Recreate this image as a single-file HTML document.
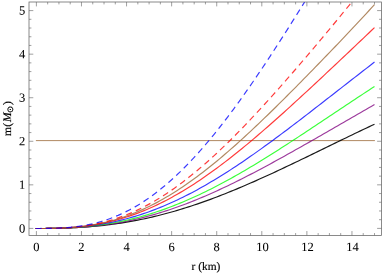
<!DOCTYPE html>
<html><head><meta charset="utf-8"><title>m(r)</title>
<style>html,body{margin:0;padding:0;background:#fff;}body{width:382px;height:273px;overflow:hidden;}svg{display:block;}</style>
</head><body>
<svg width="382" height="273" viewBox="0 0 382 273">
<defs><clipPath id="c"><rect x="29.0" y="2.0" width="352.4" height="233.45"/></clipPath></defs>
<g clip-path="url(#c)" fill="none" stroke-width="1.17" stroke-opacity="0.77">
<path d="M35.90,140.6 L374.9,140.6" stroke="#996633" stroke-width="1.0"/>
<path d="M35.61,228.50 L36.40,228.50 L39.22,228.50 L42.03,228.49 L44.85,228.47 L47.67,228.45 L50.49,228.41 L53.30,228.37 L56.12,228.32 L58.94,228.26 L61.76,228.18 L64.57,228.10 L67.39,228.00 L70.21,227.88 L73.03,227.76 L75.84,227.62 L78.66,227.46 L81.48,227.29 L84.30,227.10 L87.11,226.90 L89.93,226.68 L92.75,226.44 L95.57,226.18 L98.38,225.91 L101.20,225.62 L104.02,225.31 L106.84,224.98 L109.66,224.64 L112.47,224.27 L115.29,223.89 L118.11,223.48 L120.92,223.06 L123.74,222.61 L126.56,222.15 L129.38,221.67 L132.19,221.16 L135.01,220.64 L137.83,220.10 L140.65,219.53 L143.47,218.95 L146.28,218.34 L149.10,217.72 L151.92,217.07 L154.73,216.41 L157.55,215.72 L160.37,215.02 L163.19,214.29 L166.00,213.54 L168.82,212.78 L171.64,212.00 L174.46,211.19 L177.28,210.37 L180.09,209.53 L182.91,208.67 L185.73,207.79 L188.54,206.89 L191.36,205.98 L194.18,205.04 L197.00,204.09 L199.81,203.12 L202.63,202.14 L205.45,201.14 L208.27,200.12 L211.09,199.08 L213.90,198.03 L216.72,196.96 L219.54,195.88 L222.35,194.79 L225.17,193.68 L227.99,192.55 L230.81,191.41 L233.62,190.26 L236.44,189.09 L239.26,187.91 L242.08,186.72 L244.90,185.52 L247.71,184.31 L250.53,183.08 L253.35,181.84 L256.16,180.60 L258.98,179.34 L261.80,178.07 L264.62,176.80 L267.44,175.51 L270.25,174.22 L273.07,172.92 L275.89,171.61 L278.70,170.30 L281.52,168.98 L284.34,167.65 L287.16,166.31 L289.97,164.97 L292.79,163.63 L295.61,162.28 L298.43,160.93 L301.24,159.57 L304.06,158.21 L306.88,156.85 L309.70,155.48 L312.51,154.11 L315.33,152.74 L318.15,151.37 L320.97,150.00 L323.78,148.62 L326.60,147.25 L329.42,145.88 L332.24,144.51 L335.05,143.13 L337.87,141.76 L340.69,140.39 L343.51,139.02 L346.32,137.66 L349.14,136.30 L351.96,134.94 L354.78,133.58 L357.59,132.23 L360.41,130.88 L363.23,129.53 L366.05,128.19 L368.86,126.85 L371.68,125.52 L374.50,124.19" stroke="#000000" stroke-opacity="0.9"/>
<path d="M35.61,228.50 L36.40,228.50 L39.22,228.50 L42.03,228.49 L44.85,228.48 L47.67,228.46 L50.49,228.43 L53.30,228.39 L56.12,228.34 L58.94,228.27 L61.76,228.20 L64.57,228.11 L67.39,228.01 L70.21,227.89 L73.03,227.75 L75.84,227.60 L78.66,227.43 L81.48,227.24 L84.30,227.03 L87.11,226.80 L89.93,226.55 L92.75,226.28 L95.57,225.99 L98.38,225.67 L101.20,225.34 L104.02,224.98 L106.84,224.59 L109.66,224.19 L112.47,223.76 L115.29,223.31 L118.11,222.83 L120.92,222.32 L123.74,221.80 L126.56,221.24 L129.38,220.67 L132.19,220.07 L135.01,219.44 L137.83,218.79 L140.65,218.11 L143.47,217.41 L146.28,216.68 L149.10,215.93 L151.92,215.15 L154.73,214.35 L157.55,213.52 L160.37,212.67 L163.19,211.80 L166.00,210.90 L168.82,209.97 L171.64,209.03 L174.46,208.06 L177.28,207.07 L180.09,206.05 L182.91,205.01 L185.73,203.95 L188.54,202.87 L191.36,201.77 L194.18,200.64 L197.00,199.50 L199.81,198.33 L202.63,197.15 L205.45,195.94 L208.27,194.72 L211.09,193.48 L213.90,192.22 L216.72,190.94 L219.54,189.64 L222.35,188.33 L225.17,187.00 L227.99,185.66 L230.81,184.30 L233.62,182.92 L236.44,181.53 L239.26,180.13 L242.08,178.71 L244.90,177.28 L247.71,175.84 L250.53,174.39 L253.35,172.92 L256.16,171.44 L258.98,169.96 L261.80,168.46 L264.62,166.95 L267.44,165.43 L270.25,163.91 L273.07,162.37 L275.89,160.83 L278.70,159.28 L281.52,157.73 L284.34,156.16 L287.16,154.60 L289.97,153.02 L292.79,151.44 L295.61,149.86 L298.43,148.27 L301.24,146.67 L304.06,145.08 L306.88,143.48 L309.70,141.87 L312.51,140.26 L315.33,138.65 L318.15,137.04 L320.97,135.43 L323.78,133.81 L326.60,132.19 L329.42,130.57 L332.24,128.95 L335.05,127.33 L337.87,125.71 L340.69,124.08 L343.51,122.46 L346.32,120.83 L349.14,119.21 L351.96,117.58 L354.78,115.95 L357.59,114.32 L360.41,112.69 L363.23,111.06 L366.05,109.43 L368.86,107.79 L371.68,106.16 L374.50,104.52" stroke="#800080"/>
<path d="M35.61,228.50 L36.40,228.50 L39.22,228.50 L42.03,228.49 L44.85,228.47 L47.67,228.44 L50.49,228.40 L53.30,228.36 L56.12,228.29 L58.94,228.22 L61.76,228.13 L64.57,228.02 L67.39,227.90 L70.21,227.76 L73.03,227.60 L75.84,227.42 L78.66,227.22 L81.48,227.00 L84.30,226.76 L87.11,226.50 L89.93,226.21 L92.75,225.90 L95.57,225.57 L98.38,225.21 L101.20,224.83 L104.02,224.43 L106.84,223.99 L109.66,223.54 L112.47,223.05 L115.29,222.54 L118.11,222.00 L120.92,221.44 L123.74,220.84 L126.56,220.22 L129.38,219.57 L132.19,218.90 L135.01,218.19 L137.83,217.46 L140.65,216.70 L143.47,215.91 L146.28,215.10 L149.10,214.25 L151.92,213.38 L154.73,212.48 L157.55,211.55 L160.37,210.59 L163.19,209.61 L166.00,208.60 L168.82,207.56 L171.64,206.49 L174.46,205.40 L177.28,204.28 L180.09,203.14 L182.91,201.97 L185.73,200.77 L188.54,199.55 L191.36,198.30 L194.18,197.03 L197.00,195.74 L199.81,194.42 L202.63,193.07 L205.45,191.71 L208.27,190.32 L211.09,188.91 L213.90,187.47 L216.72,186.02 L219.54,184.54 L222.35,183.05 L225.17,181.53 L227.99,180.00 L230.81,178.44 L233.62,176.87 L236.44,175.28 L239.26,173.67 L242.08,172.05 L244.90,170.41 L247.71,168.75 L250.53,167.08 L253.35,165.39 L256.16,163.69 L258.98,161.98 L261.80,160.25 L264.62,158.51 L267.44,156.76 L270.25,155.00 L273.07,153.22 L275.89,151.44 L278.70,149.64 L281.52,147.84 L284.34,146.03 L287.16,144.21 L289.97,142.38 L292.79,140.55 L295.61,138.71 L298.43,136.87 L301.24,135.01 L304.06,133.16 L306.88,131.30 L309.70,129.43 L312.51,127.57 L315.33,125.70 L318.15,123.82 L320.97,121.95 L323.78,120.07 L326.60,118.20 L329.42,116.32 L332.24,114.44 L335.05,112.56 L337.87,110.68 L340.69,108.81 L343.51,106.93 L346.32,105.06 L349.14,103.19 L351.96,101.32 L354.78,99.46 L357.59,97.59 L360.41,95.73 L363.23,93.88 L366.05,92.02 L368.86,90.17 L371.68,88.33 L374.50,86.49" stroke="#00ff00"/>
<path d="M35.61,228.50 L36.40,228.50 L39.22,228.50 L42.03,228.49 L44.85,228.46 L47.67,228.43 L50.49,228.39 L53.30,228.33 L56.12,228.26 L58.94,228.17 L61.76,228.06 L64.57,227.94 L67.39,227.80 L70.21,227.63 L73.03,227.44 L75.84,227.23 L78.66,227.00 L81.48,226.74 L84.30,226.46 L87.11,226.15 L89.93,225.81 L92.75,225.45 L95.57,225.05 L98.38,224.63 L101.20,224.18 L104.02,223.70 L106.84,223.19 L109.66,222.65 L112.47,222.07 L115.29,221.47 L118.11,220.83 L120.92,220.16 L123.74,219.46 L126.56,218.73 L129.38,217.96 L132.19,217.17 L135.01,216.33 L137.83,215.47 L140.65,214.57 L143.47,213.64 L146.28,212.68 L149.10,211.68 L151.92,210.65 L154.73,209.59 L157.55,208.50 L160.37,207.37 L163.19,206.21 L166.00,205.02 L168.82,203.79 L171.64,202.54 L174.46,201.25 L177.28,199.94 L180.09,198.59 L182.91,197.21 L185.73,195.81 L188.54,194.37 L191.36,192.90 L194.18,191.41 L197.00,189.89 L199.81,188.34 L202.63,186.76 L205.45,185.16 L208.27,183.53 L211.09,181.87 L213.90,180.19 L216.72,178.49 L219.54,176.76 L222.35,175.01 L225.17,173.23 L227.99,171.44 L230.81,169.62 L233.62,167.78 L236.44,165.92 L239.26,164.04 L242.08,162.14 L244.90,160.22 L247.71,158.29 L250.53,156.33 L253.35,154.36 L256.16,152.38 L258.98,150.38 L261.80,148.36 L264.62,146.33 L267.44,144.29 L270.25,142.23 L273.07,140.17 L275.89,138.09 L278.70,136.00 L281.52,133.89 L284.34,131.78 L287.16,129.66 L289.97,127.54 L292.79,125.40 L295.61,123.25 L298.43,121.10 L301.24,118.95 L304.06,116.78 L306.88,114.62 L309.70,112.44 L312.51,110.27 L315.33,108.08 L318.15,105.90 L320.97,103.71 L323.78,101.52 L326.60,99.33 L329.42,97.14 L332.24,94.94 L335.05,92.75 L337.87,90.55 L340.69,88.36 L343.51,86.16 L346.32,83.97 L349.14,81.77 L351.96,79.58 L354.78,77.39 L357.59,75.19 L360.41,73.00 L363.23,70.82 L366.05,68.63 L368.86,66.44 L371.68,64.26 L374.50,62.08" stroke="#0000ff"/>
<path d="M35.61,228.50 L36.40,228.50 L39.22,228.50 L42.03,228.49 L44.85,228.47 L47.67,228.44 L50.49,228.39 L53.30,228.33 L56.12,228.26 L58.94,228.16 L61.76,228.05 L64.57,227.91 L67.39,227.75 L70.21,227.56 L73.03,227.35 L75.84,227.11 L78.66,226.84 L81.48,226.54 L84.30,226.22 L87.11,225.85 L89.93,225.46 L92.75,225.03 L95.57,224.57 L98.38,224.07 L101.20,223.54 L104.02,222.97 L106.84,222.36 L109.66,221.72 L112.47,221.03 L115.29,220.31 L118.11,219.55 L120.92,218.74 L123.74,217.90 L126.56,217.02 L129.38,216.10 L132.19,215.13 L135.01,214.13 L137.83,213.08 L140.65,212.00 L143.47,210.87 L146.28,209.71 L149.10,208.50 L151.92,207.25 L154.73,205.97 L157.55,204.64 L160.37,203.27 L163.19,201.87 L166.00,200.42 L168.82,198.94 L171.64,197.41 L174.46,195.85 L177.28,194.25 L180.09,192.62 L182.91,190.95 L185.73,189.24 L188.54,187.50 L191.36,185.72 L194.18,183.91 L197.00,182.06 L199.81,180.18 L202.63,178.27 L205.45,176.33 L208.27,174.35 L211.09,172.34 L213.90,170.31 L216.72,168.25 L219.54,166.15 L222.35,164.03 L225.17,161.89 L227.99,159.71 L230.81,157.51 L233.62,155.29 L236.44,153.04 L239.26,150.77 L242.08,148.48 L244.90,146.17 L247.71,143.83 L250.53,141.48 L253.35,139.10 L256.16,136.71 L258.98,134.30 L261.80,131.87 L264.62,129.43 L267.44,126.97 L270.25,124.50 L273.07,122.01 L275.89,119.51 L278.70,117.00 L281.52,114.47 L284.34,111.94 L287.16,109.39 L289.97,106.83 L292.79,104.26 L295.61,101.69 L298.43,99.11 L301.24,96.51 L304.06,93.92 L306.88,91.31 L309.70,88.70 L312.51,86.08 L315.33,83.46 L318.15,80.84 L320.97,78.20 L323.78,75.57 L326.60,72.93 L329.42,70.29 L332.24,67.64 L335.05,64.99 L337.87,62.34 L340.69,59.69 L343.51,57.03 L346.32,54.37 L349.14,51.71 L351.96,49.04 L354.78,46.37 L357.59,43.70 L360.41,41.03 L363.23,38.35 L366.05,35.67 L368.86,32.98 L371.68,30.29 L374.50,27.60" stroke="#ff0000"/>
<path d="M35.61,228.50 L36.40,228.50 L39.22,228.50 L42.03,228.49 L44.85,228.48 L47.67,228.45 L50.49,228.42 L53.30,228.36 L56.12,228.29 L58.94,228.20 L61.76,228.09 L64.57,227.95 L67.39,227.79 L70.21,227.60 L73.03,227.39 L75.84,227.14 L78.66,226.86 L81.48,226.54 L84.30,226.19 L87.11,225.80 L89.93,225.38 L92.75,224.92 L95.57,224.41 L98.38,223.87 L101.20,223.28 L104.02,222.66 L106.84,221.99 L109.66,221.27 L112.47,220.51 L115.29,219.71 L118.11,218.86 L120.92,217.96 L123.74,217.02 L126.56,216.04 L129.38,215.00 L132.19,213.92 L135.01,212.80 L137.83,211.62 L140.65,210.40 L143.47,209.14 L146.28,207.83 L149.10,206.47 L151.92,205.06 L154.73,203.61 L157.55,202.11 L160.37,200.57 L163.19,198.99 L166.00,197.36 L168.82,195.69 L171.64,193.97 L174.46,192.21 L177.28,190.41 L180.09,188.57 L182.91,186.68 L185.73,184.76 L188.54,182.80 L191.36,180.80 L194.18,178.76 L197.00,176.68 L199.81,174.57 L202.63,172.42 L205.45,170.24 L208.27,168.02 L211.09,165.77 L213.90,163.49 L216.72,161.18 L219.54,158.83 L222.35,156.46 L225.17,154.06 L227.99,151.63 L230.81,149.17 L233.62,146.69 L236.44,144.19 L239.26,141.66 L242.08,139.10 L244.90,136.53 L247.71,133.93 L250.53,131.31 L253.35,128.67 L256.16,126.02 L258.98,123.34 L261.80,120.65 L264.62,117.94 L267.44,115.22 L270.25,112.48 L273.07,109.73 L275.89,106.97 L278.70,104.19 L281.52,101.40 L284.34,98.60 L287.16,95.78 L289.97,92.96 L292.79,90.13 L295.61,87.29 L298.43,84.44 L301.24,81.58 L304.06,78.71 L306.88,75.84 L309.70,72.96 L312.51,70.07 L315.33,67.18 L318.15,64.27 L320.97,61.37 L323.78,58.45 L326.60,55.53 L329.42,52.60 L332.24,49.67 L335.05,46.73 L337.87,43.78 L340.69,40.82 L343.51,37.86 L346.32,34.89 L349.14,31.91 L351.96,28.92 L354.78,25.92 L357.59,22.91 L360.41,19.89 L363.23,16.85 L366.05,13.81 L368.86,10.75 L371.68,7.67 L374.50,4.58" stroke="#996633"/>
<g transform="scale(1,1.056)"><path d="M35.61,216.38 L36.40,216.38 L39.22,216.38 L42.03,216.38 L44.85,216.36 L47.67,216.34 L50.49,216.30 L53.30,216.25 L56.12,216.18 L58.94,216.09 L61.76,215.98 L64.57,215.84 L67.39,215.68 L70.21,215.49 L73.03,215.26 L75.84,215.01 L78.66,214.72 L81.48,214.39 L84.30,214.03 L87.11,213.63 L89.93,213.19 L92.75,212.71 L95.57,212.18 L98.38,211.62 L101.20,211.01 L104.02,210.35 L106.84,209.65 L109.66,208.90 L112.47,208.10 L115.29,207.26 L118.11,206.37 L120.92,205.43 L123.74,204.44 L126.56,203.40 L129.38,202.31 L132.19,201.18 L135.01,199.99 L137.83,198.75 L140.65,197.46 L143.47,196.13 L146.28,194.74 L149.10,193.30 L151.92,191.82 L154.73,190.28 L157.55,188.70 L160.37,187.06 L163.19,185.38 L166.00,183.66 L168.82,181.88 L171.64,180.06 L174.46,178.19 L177.28,176.28 L180.09,174.32 L182.91,172.32 L185.73,170.27 L188.54,168.18 L191.36,166.05 L194.18,163.88 L197.00,161.67 L199.81,159.41 L202.63,157.12 L205.45,154.79 L208.27,152.43 L211.09,150.03 L213.90,147.59 L216.72,145.12 L219.54,142.61 L222.35,140.07 L225.17,137.50 L227.99,134.90 L230.81,132.27 L233.62,129.61 L236.44,126.93 L239.26,124.21 L242.08,121.47 L244.90,118.70 L247.71,115.91 L250.53,113.10 L253.35,110.26 L256.16,107.41 L258.98,104.53 L261.80,101.63 L264.62,98.71 L267.44,95.77 L270.25,92.82 L273.07,89.85 L275.89,86.86 L278.70,83.86 L281.52,80.84 L284.34,77.81 L287.16,74.76 L289.97,71.71 L292.79,68.64 L295.61,65.55 L298.43,62.46 L301.24,59.35 L304.06,56.24 L306.88,53.11 L309.70,49.97 L312.51,46.83 L315.33,43.67 L318.15,40.51 L320.97,37.33 L323.78,34.15 L326.60,30.95 L329.42,27.75 L332.24,24.53 L335.05,21.31 L337.87,18.07 L340.69,14.83 L343.51,11.57 L346.32,8.30 L349.14,5.02 L351.96,1.73 L354.78,-1.57 L357.59,-4.89" stroke="#ff0000" stroke-dasharray="6.0 4.24"/></g>
<g transform="scale(1,1.056)"><path d="M35.61,216.38 L36.40,216.38 L39.22,216.38 L42.03,216.37 L44.85,216.36 L47.67,216.33 L50.49,216.29 L53.30,216.22 L56.12,216.14 L58.94,216.03 L61.76,215.89 L64.57,215.73 L67.39,215.53 L70.21,215.29 L73.03,215.02 L75.84,214.70 L78.66,214.35 L81.48,213.95 L84.30,213.50 L87.11,213.01 L89.93,212.46 L92.75,211.86 L95.57,211.21 L98.38,210.51 L101.20,209.75 L104.02,208.93 L106.84,208.06 L109.66,207.12 L112.47,206.13 L115.29,205.07 L118.11,203.95 L120.92,202.76 L123.74,201.52 L126.56,200.21 L129.38,198.83 L132.19,197.39 L135.01,195.88 L137.83,194.30 L140.65,192.66 L143.47,190.96 L146.28,189.18 L149.10,187.34 L151.92,185.44 L154.73,183.46 L157.55,181.42 L160.37,179.32 L163.19,177.14 L166.00,174.91 L168.82,172.60 L171.64,170.24 L174.46,167.80 L177.28,165.31 L180.09,162.75 L182.91,160.13 L185.73,157.45 L188.54,154.70 L191.36,151.90 L194.18,149.03 L197.00,146.11 L199.81,143.13 L202.63,140.09 L205.45,137.00 L208.27,133.85 L211.09,130.65 L213.90,127.40 L216.72,124.09 L219.54,120.73 L222.35,117.33 L225.17,113.87 L227.99,110.37 L230.81,106.83 L233.62,103.23 L236.44,99.60 L239.26,95.92 L242.08,92.20 L244.90,88.45 L247.71,84.65 L250.53,80.82 L253.35,76.95 L256.16,73.04 L258.98,69.11 L261.80,65.14 L264.62,61.14 L267.44,57.11 L270.25,53.06 L273.07,48.97 L275.89,44.87 L278.70,40.74 L281.52,36.58 L284.34,32.41 L287.16,28.21 L289.97,24.00 L292.79,19.77 L295.61,15.52 L298.43,11.26 L301.24,6.98 L304.06,2.69 L306.88,-1.61 L309.70,-5.92" stroke="#0000ff" stroke-dasharray="6.0 4.24"/></g>
</g>
<g stroke="#646464" stroke-width="0.75" fill="none">
<rect x="29.0" y="2.0" width="352.4" height="233.45"/>
<path d="M36.40,235.45 v-4.4 M36.40,2.0 v4.4 M47.67,235.45 v-2.4 M47.67,2.0 v2.4 M58.94,235.45 v-2.4 M58.94,2.0 v2.4 M70.21,235.45 v-2.4 M70.21,2.0 v2.4 M81.48,235.45 v-4.4 M81.48,2.0 v4.4 M92.75,235.45 v-2.4 M92.75,2.0 v2.4 M104.02,235.45 v-2.4 M104.02,2.0 v2.4 M115.29,235.45 v-2.4 M115.29,2.0 v2.4 M126.56,235.45 v-4.4 M126.56,2.0 v4.4 M137.83,235.45 v-2.4 M137.83,2.0 v2.4 M149.10,235.45 v-2.4 M149.10,2.0 v2.4 M160.37,235.45 v-2.4 M160.37,2.0 v2.4 M171.64,235.45 v-4.4 M171.64,2.0 v4.4 M182.91,235.45 v-2.4 M182.91,2.0 v2.4 M194.18,235.45 v-2.4 M194.18,2.0 v2.4 M205.45,235.45 v-2.4 M205.45,2.0 v2.4 M216.72,235.45 v-4.4 M216.72,2.0 v4.4 M227.99,235.45 v-2.4 M227.99,2.0 v2.4 M239.26,235.45 v-2.4 M239.26,2.0 v2.4 M250.53,235.45 v-2.4 M250.53,2.0 v2.4 M261.80,235.45 v-4.4 M261.80,2.0 v4.4 M273.07,235.45 v-2.4 M273.07,2.0 v2.4 M284.34,235.45 v-2.4 M284.34,2.0 v2.4 M295.61,235.45 v-2.4 M295.61,2.0 v2.4 M306.88,235.45 v-4.4 M306.88,2.0 v4.4 M318.15,235.45 v-2.4 M318.15,2.0 v2.4 M329.42,235.45 v-2.4 M329.42,2.0 v2.4 M340.69,235.45 v-2.4 M340.69,2.0 v2.4 M351.96,235.45 v-4.4 M351.96,2.0 v4.4 M363.23,235.45 v-2.4 M363.23,2.0 v2.4 M374.50,235.45 v-2.4 M374.50,2.0 v2.4 M29.0,228.40 h4.3 M381.4,228.40 h-4.3 M29.0,219.69 h2.4 M381.4,219.69 h-2.4 M29.0,210.98 h2.4 M381.4,210.98 h-2.4 M29.0,202.26 h2.4 M381.4,202.26 h-2.4 M29.0,193.55 h2.4 M381.4,193.55 h-2.4 M29.0,184.84 h4.3 M381.4,184.84 h-4.3 M29.0,176.13 h2.4 M381.4,176.13 h-2.4 M29.0,167.42 h2.4 M381.4,167.42 h-2.4 M29.0,158.70 h2.4 M381.4,158.70 h-2.4 M29.0,149.99 h2.4 M381.4,149.99 h-2.4 M29.0,141.28 h4.3 M381.4,141.28 h-4.3 M29.0,132.57 h2.4 M381.4,132.57 h-2.4 M29.0,123.86 h2.4 M381.4,123.86 h-2.4 M29.0,115.14 h2.4 M381.4,115.14 h-2.4 M29.0,106.43 h2.4 M381.4,106.43 h-2.4 M29.0,97.72 h4.3 M381.4,97.72 h-4.3 M29.0,89.01 h2.4 M381.4,89.01 h-2.4 M29.0,80.30 h2.4 M381.4,80.30 h-2.4 M29.0,71.58 h2.4 M381.4,71.58 h-2.4 M29.0,62.87 h2.4 M381.4,62.87 h-2.4 M29.0,54.16 h4.3 M381.4,54.16 h-4.3 M29.0,45.45 h2.4 M381.4,45.45 h-2.4 M29.0,36.74 h2.4 M381.4,36.74 h-2.4 M29.0,28.02 h2.4 M381.4,28.02 h-2.4 M29.0,19.31 h2.4 M381.4,19.31 h-2.4 M29.0,10.60 h4.3 M381.4,10.60 h-4.3" stroke-width="0.62"/>
</g>
<g font-family="'Liberation Serif', 'Times New Roman', serif" font-size="12.5" fill="#000" stroke="#000" stroke-width="0.06" text-rendering="geometricPrecision">
<text x="25.2" y="232.40" text-anchor="end" transform="rotate(0.03 25 228.4)">0</text>
<text x="25.2" y="188.84" text-anchor="end" transform="rotate(0.03 25 184.8)">1</text>
<text x="25.2" y="145.28" text-anchor="end" transform="rotate(0.03 25 141.3)">2</text>
<text x="25.2" y="101.72" text-anchor="end" transform="rotate(0.03 25 97.7)">3</text>
<text x="25.2" y="58.16" text-anchor="end" transform="rotate(0.03 25 54.2)">4</text>
<text x="25.2" y="14.60" text-anchor="end" transform="rotate(0.03 25 10.6)">5</text>
<text x="36.40" y="250.9" text-anchor="middle" transform="rotate(0.03 36.4 250)">0</text>
<text x="81.48" y="250.9" text-anchor="middle" transform="rotate(0.03 81.5 250)">2</text>
<text x="126.56" y="250.9" text-anchor="middle" transform="rotate(0.03 126.6 250)">4</text>
<text x="171.64" y="250.9" text-anchor="middle" transform="rotate(0.03 171.6 250)">6</text>
<text x="216.72" y="250.9" text-anchor="middle" transform="rotate(0.03 216.7 250)">8</text>
<text x="262.40" y="250.9" text-anchor="middle" transform="rotate(0.03 262.4 250)">10</text>
<text x="307.48" y="250.9" text-anchor="middle" transform="rotate(0.03 307.5 250)">12</text>
<text x="352.56" y="250.9" text-anchor="middle" transform="rotate(0.03 352.6 250)">14</text>
<text x="206" y="269.5" text-anchor="middle" font-size="11.4" stroke-width="0.15">r (km)</text>
<text transform="translate(10.85,135.9) rotate(-90)" font-size="11.5" stroke-width="0.2"><tspan x="0">m</tspan><tspan x="9.15">(</tspan><tspan x="13.9" font-style="italic">M</tspan><tspan x="23.0" dy="2.64" font-size="8.5" font-family="'DejaVu Sans', sans-serif">⊙</tspan><tspan x="30.8" dy="-2.64">)</tspan></text>
</g>
</svg>
</body></html>
